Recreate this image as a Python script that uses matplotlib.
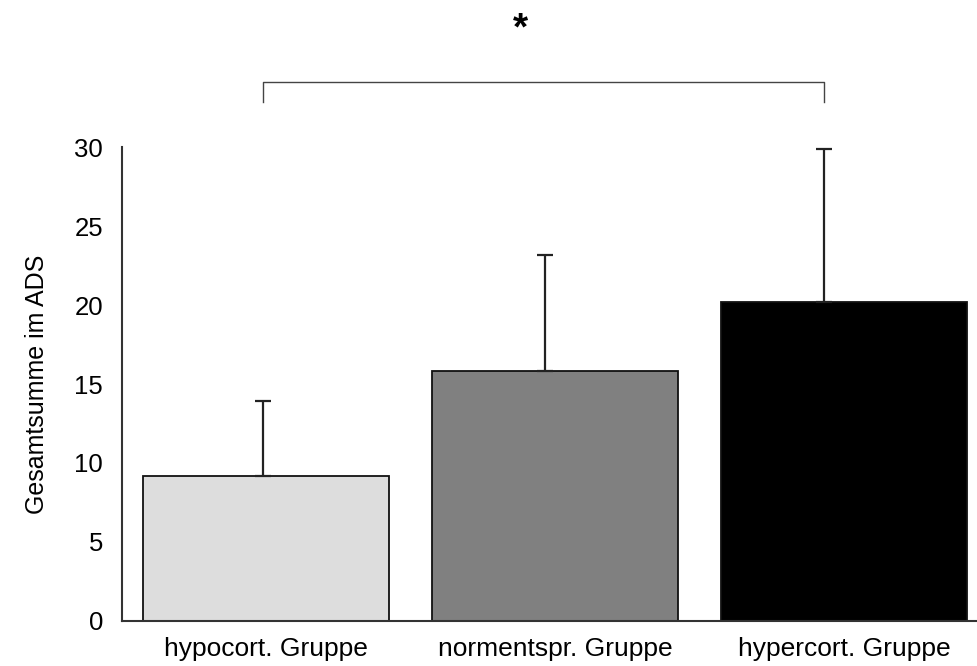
import matplotlib
matplotlib.use("Agg")
import matplotlib.pyplot as plt
import numpy as np

plt.rcParams['font.family'] = ['Liberation Sans', 'DejaVu Sans']

# Group means and standard deviations of the ADS total score
groups = ["hypocort. Gruppe", "normentspr. Gruppe", "hypercort. Gruppe"]
means = [9.2, 15.8, 20.2]
sds = [4.7, 7.4, 9.7]
bar_colors = ["#dddddd", "#808080", "#000000"]
err_shift = [-0.012, -0.036, -0.072]   # horizontal placement of the whiskers
yticks = [0, 5, 10, 15, 20, 25, 30]

fig = plt.figure(figsize=(9.77, 6.66), dpi=100)
ax = fig.add_axes([0.1246, 0.068, 0.8754, 0.7108])

x = np.arange(len(groups))
ax.bar(x, means, width=0.85, color=bar_colors, edgecolor="#111111",
       linewidth=1.3, zorder=2)

# upper-only error bars
ex = x + np.array(err_shift)
ax.errorbar(ex, means, yerr=[np.zeros(len(sds)), sds], fmt="none",
            ecolor="#222222", elinewidth=1.6, capsize=6, capthick=1.6,
            zorder=3)

ax.set_xlim(-0.5, 2.459)
ax.set_ylim(0, 30)
ax.set_yticks(yticks)
ax.set_xticks(x)
ax.set_xticklabels(groups, fontsize=19)
ax.tick_params(axis="y", length=0, pad=13.5, labelsize=18.5)
ax.tick_params(axis="x", length=0, pad=12)
ax.set_ylabel("Gesamtsumme im ADS", fontsize=18, labelpad=18)

for s in ["top", "right"]:
    ax.spines[s].set_visible(False)
for s in ["left", "bottom"]:
    ax.spines[s].set_color("#333333")
    ax.spines[s].set_linewidth(1.5)

# significance bracket between outer groups
y_low, y_high = 32.9, 34.15
ax.plot([ex[0], ex[0], ex[2], ex[2]], [y_low, y_high, y_high, y_low],
        color="#444444", lw=1.0, clip_on=False)
ax.text(0.878, 37.45, "*", ha="center", va="center", fontsize=28,
        fontweight="bold", clip_on=False)

fig.savefig("out.png", dpi=100)
